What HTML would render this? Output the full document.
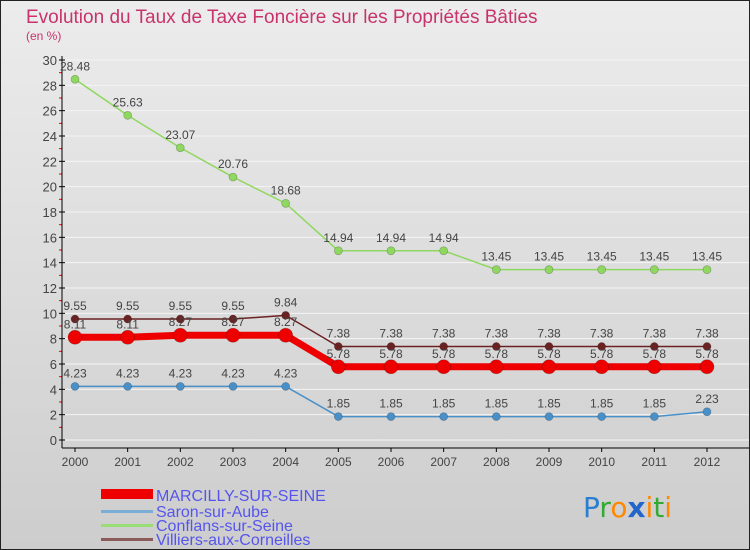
<!DOCTYPE html>
<html><head><meta charset="utf-8"><style>
html,body{margin:0;padding:0;}
body{width:750px;height:550px;overflow:hidden;font-family:"Liberation Sans",sans-serif;}
#wrap{position:relative;width:748px;height:548px;border:1px solid #222;background:linear-gradient(#ececec,#cdcdcd);}
</style></head><body>
<div id="wrap">
<svg id="chart" width="748" height="548" style="position:absolute;left:0;top:0">
<text x="25" y="22" font-size="19" fill="#c8336b">Evolution du Taux de Taxe Foncière sur les Propriétés Bâties</text>
<text x="25" y="39" font-size="12" fill="#c8336b">(en %)</text>
<g id="grid"></g><g id="axes"></g><g id="series"></g>
<g>
<rect x="100" y="488" width="52" height="10" fill="#ee0000"/>
<text x="155" y="500" font-size="16" fill="#5555ee">MARCILLY-SUR-SEINE</text>
<rect x="100" y="509" width="52" height="3" fill="#7aaed6"/>
<text x="155" y="516" font-size="16" fill="#5555ee">Saron-sur-Aube</text>
<rect x="100" y="523" width="52" height="3" fill="#99dd77"/>
<text x="155" y="530" font-size="16" fill="#5555ee">Conflans-sur-Seine</text>
<rect x="100" y="537" width="52" height="3" fill="#8b5a5a"/>
<text x="155" y="544" font-size="16" fill="#5555ee">Villiers-aux-Corneilles</text>
</g>
<g font-size="28" font-family="DejaVu Sans,sans-serif">
<text x="582" y="516"><tspan fill="#2a7fd0">P</tspan><tspan fill="#33aa33">r</tspan><tspan fill="#ff8800">o</tspan><tspan fill="#2266cc" font-weight="bold">x</tspan><tspan fill="#ff8800">i</tspan><tspan fill="#33aa33">t</tspan><tspan fill="#ff8800">i</tspan></text>
</g>
</svg>
</div>
<script>
const years=[2000,2001,2002,2003,2004,2005,2006,2007,2008,2009,2010,2011,2012];
const marcilly=[8.11,8.11,8.27,8.27,8.27,5.78,5.78,5.78,5.78,5.78,5.78,5.78,5.78];
const saron=[4.23,4.23,4.23,4.23,4.23,1.85,1.85,1.85,1.85,1.85,1.85,1.85,2.23];
const conflans=[28.48,25.63,23.07,20.76,18.68,14.94,14.94,14.94,13.45,13.45,13.45,13.45,13.45];
const villiers=[9.55,9.55,9.55,9.55,9.84,7.38,7.38,7.38,7.38,7.38,7.38,7.38,7.38];
const yTicks=[0,2,4,6,8,10,12,14,16,18,20,22,24,26,28,30];
const NS="http://www.w3.org/2000/svg";
function xS(i){return 74+i*(706-74)/(years.length-1);}
function yS(v){return 439-v*(439-59)/30;}
function mk(tag,attrs,parent){const e=document.createElementNS(NS,tag);for(const k in attrs)e.setAttribute(k,attrs[k]);parent.appendChild(e);return e;}
const grid=document.getElementById('grid'),axes=document.getElementById('axes'),ser=document.getElementById('series');
yTicks.forEach(t=>{
  const g=mk('line',{x1:61,x2:748,y1:yS(t),y2:yS(t),stroke:'#f4f4f4','stroke-width':1},grid);
  
  
  mk('line',{x1:58,x2:64,y1:yS(t),y2:yS(t),stroke:'#000'},axes);
  if(t<30)mk('line',{x1:58,x2:61,y1:yS(t+1),y2:yS(t+1),stroke:'#e00'},axes);
  const l=mk('text',{x:56,y:yS(t)+5,'text-anchor':'end','font-size':13,fill:'#444'},axes);
  l.textContent=t;
  
  
});
mk('line',{x1:61,x2:61,y1:55,y2:447,stroke:'#000'},axes);
mk('line',{x1:61,x2:748,y1:447,y2:447,stroke:'#000'},axes);
years.forEach((y,i)=>{
  mk('line',{x1:xS(i),x2:xS(i),y1:447,y2:451,stroke:'#000'},axes);
  const l=mk('text',{x:xS(i),y:465,'text-anchor':'middle','font-size':12,fill:'#444'},axes);
  l.textContent=y;
  
  
});
function draw(name,vals,color,w,r,labelColor){
  const g=mk('g',{},ser);
  
  
  mk('polyline',{points:vals.map((v,i)=>xS(i)+','+yS(v)).join(' '),fill:'none',stroke:color,'stroke-width':w,'stroke-linejoin':'round'},g);
  vals.forEach((v,i)=>{
    const c=mk('circle',{cx:xS(i),cy:yS(v),r:r,fill:color,stroke:'rgba(0,0,0,0.25)','stroke-width':0.7},g);
    
    
    const t=mk('text',{x:xS(i),y:yS(v)-9,'text-anchor':'middle','font-size':12,fill:'#444'},g);
    t.textContent=v;
    
    
  });
}
draw('saron',saron,'#4a90c8',1.5,4,'#444');
draw('conflans',conflans,'#8fd85f',1.5,4,'#444');
draw('villiers',villiers,'#6b2222',1.5,4,'#444');
draw('marcilly',marcilly,'#ee0000',7,7,'#444');
</script>
</body></html>
